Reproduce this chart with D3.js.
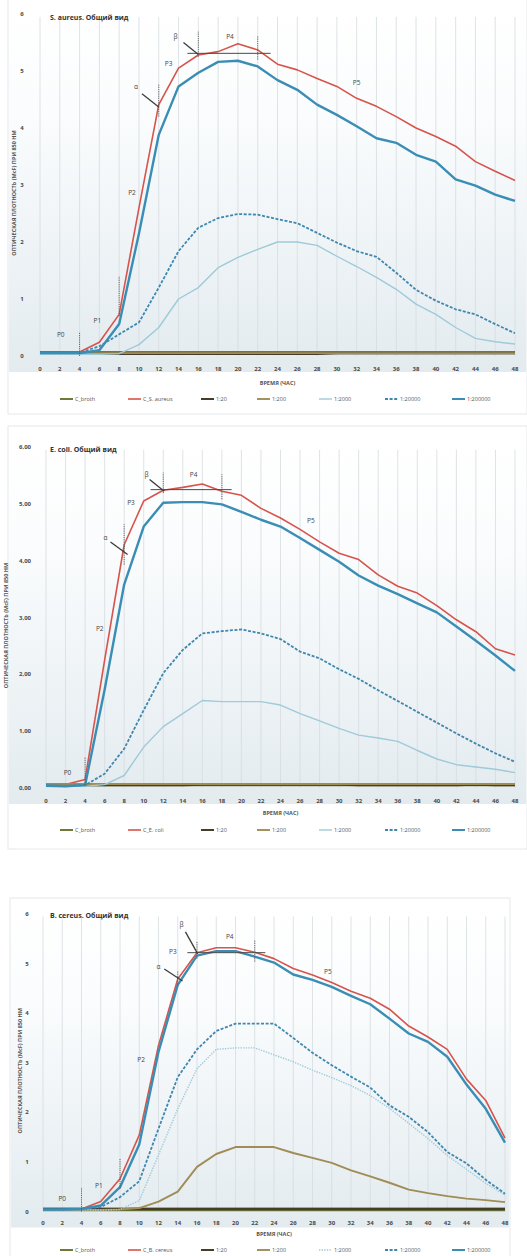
<!DOCTYPE html>
<html>
<head>
<meta charset="utf-8">
<script src="https://cdn.jsdelivr.net/npm/d3@7"></script>
<style>
  body { margin: 0; background: #ffffff; }
  svg { display: block; font-family: "Liberation Sans Narrow", "Open Sans", sans-serif; }
</style>
</head>
<body>
<svg id="chart" width="527" height="1256"></svg>
<script>
// Sampling times, hours
const hours = [0, 2, 4, 6, 8, 10, 12, 14, 16, 18, 20, 22, 24, 26, 28, 30, 32, 34, 36, 38, 40, 42, 44, 46, 48];
const yTicks = [0, 1, 2, 3, 4, 5, 6];
const yTickLabelsPlain = ["0", "1", "2", "3", "4", "5", "6"];
const yTickLabelsComma = ["0,00", "1,00", "2,00", "3,00", "4,00", "5,00", "6,00"];
const seriesNames = ["C_broth", null, "1:20", "1:200", "1:2000", "1:20000", "1:200000"];

// ---- S. aureus ----
const saBroth   = [0.06,0.06,0.06,0.06,0.06,0.06,0.06,0.06,0.06,0.06,0.06,0.06,0.06,0.06,0.06,0.06,0.06,0.06,0.06,0.06,0.06,0.06,0.06,0.06,0.06];
const saControl = [0.06,0.06,0.07,0.24,0.73,2.6,4.41,5.05,5.28,5.34,5.48,5.37,5.12,5.02,4.87,4.73,4.52,4.38,4.2,4.0,3.85,3.68,3.41,3.24,3.08];
const sa20      = [0.04,0.04,0.04,0.04,0.04,0.04,0.04,0.04,0.04,0.04,0.04,0.04,0.04,0.04,0.04,0.05,0.05,0.05,0.05,0.05,0.05,0.05,0.05,0.05,0.05];
const sa200     = [0.05,0.05,0.05,0.05,0.05,0.05,0.05,0.05,0.05,0.05,0.05,0.05,0.05,0.05,0.05,0.05,0.05,0.05,0.05,0.05,0.05,0.05,0.05,0.05,0.05];
const sa2000    = [0.03,0.03,0.03,0.03,0.04,0.2,0.5,1.0,1.2,1.55,1.73,1.87,2.0,2.0,1.94,1.75,1.57,1.38,1.17,0.91,0.73,0.5,0.31,0.25,0.21];
const sa20000   = [0.05,0.05,0.06,0.17,0.38,0.59,1.2,1.84,2.25,2.42,2.49,2.48,2.4,2.33,2.16,1.99,1.84,1.74,1.46,1.16,0.97,0.82,0.73,0.56,0.4];
const sa200000  = [0.05,0.05,0.05,0.1,0.56,2.15,3.88,4.73,4.97,5.16,5.18,5.08,4.84,4.67,4.41,4.23,4.03,3.82,3.74,3.53,3.41,3.1,2.99,2.83,2.72];

// ---- E. coli ----
const ecBroth   = [0.06,0.06,0.06,0.06,0.06,0.06,0.06,0.06,0.06,0.06,0.06,0.06,0.06,0.06,0.06,0.06,0.06,0.06,0.06,0.06,0.06,0.06,0.06,0.06,0.06];
const ecControl = [0.05,0.06,0.15,2.25,4.28,5.05,5.24,5.29,5.35,5.22,5.15,4.92,4.75,4.55,4.33,4.13,4.02,3.75,3.55,3.43,3.21,2.96,2.75,2.45,2.34];
const ec20      = [0.05,0.05,0.05,0.05,0.05,0.05,0.05,0.05,0.06,0.06,0.06,0.06,0.06,0.06,0.06,0.06,0.05,0.05,0.05,0.05,0.05,0.05,0.06,0.05,0.05];
const ec200     = [0.07,0.07,0.07,0.07,0.07,0.07,0.07,0.07,0.07,0.07,0.07,0.07,0.07,0.07,0.07,0.07,0.07,0.07,0.07,0.07,0.07,0.07,0.07,0.07,0.07];
const ec2000    = [0.03,0.03,0.03,0.06,0.22,0.72,1.08,1.31,1.54,1.52,1.52,1.52,1.46,1.31,1.18,1.05,0.93,0.88,0.82,0.66,0.51,0.41,0.37,0.33,0.27];
const ec20000   = [0.05,0.04,0.05,0.25,0.69,1.37,2.02,2.43,2.72,2.76,2.79,2.72,2.62,2.4,2.28,2.09,1.92,1.72,1.53,1.34,1.15,0.96,0.78,0.61,0.46];
const ec200000  = [0.04,0.03,0.05,1.73,3.58,4.6,5.02,5.03,5.03,4.99,4.86,4.72,4.6,4.4,4.19,3.98,3.74,3.56,3.41,3.25,3.09,2.84,2.59,2.33,2.06];

// ---- B. cereus ----
const bcBroth   = [0.04,0.04,0.04,0.04,0.04,0.04,0.04,0.04,0.04,0.04,0.04,0.04,0.04,0.04,0.04,0.04,0.04,0.04,0.04,0.04,0.04,0.04,0.04,0.04,0.04];
const bcControl = [0.04,0.04,0.05,0.2,0.66,1.54,3.35,4.69,5.22,5.32,5.32,5.23,5.1,4.9,4.77,4.62,4.44,4.3,4.08,3.74,3.52,3.27,2.67,2.24,1.48];
const bc20      = [0.05,0.05,0.05,0.05,0.05,0.05,0.05,0.05,0.05,0.05,0.05,0.05,0.05,0.05,0.05,0.05,0.05,0.05,0.05,0.05,0.05,0.05,0.05,0.05,0.05];
const bc200     = [0.03,0.03,0.03,0.03,0.04,0.07,0.2,0.4,0.9,1.16,1.3,1.3,1.3,1.18,1.08,0.98,0.83,0.71,0.58,0.44,0.37,0.31,0.26,0.23,0.19];
const bc2000    = [0.03,0.03,0.03,0.03,0.04,0.22,1.14,2.07,2.88,3.27,3.3,3.3,3.16,3.02,2.85,2.7,2.54,2.34,2.08,1.78,1.47,1.13,0.85,0.57,0.33];
const bc20000   = [0.04,0.04,0.05,0.09,0.29,0.61,1.67,2.71,3.27,3.64,3.79,3.79,3.79,3.5,3.2,2.95,2.72,2.5,2.14,1.91,1.6,1.2,0.97,0.64,0.36];
const bc200000  = [0.04,0.04,0.05,0.12,0.49,1.35,3.22,4.57,5.16,5.25,5.25,5.14,5.02,4.78,4.67,4.53,4.35,4.18,3.89,3.59,3.42,3.12,2.56,2.07,1.39];

// Growth-phase annotations (time in hours, optical density)
const saPhases  = [{text:"P0",t:2.1,v:0.38},{text:"P1",t:5.8,v:0.62},{text:"P2",t:9.3,v:2.86},{text:"P3",t:13.0,v:5.13},{text:"P4",t:19.2,v:5.61},{text:"P5",t:32.0,v:4.8}];
const saBounds  = [{t:4,v0:0,v1:0.41},{t:8,v0:0.7,v1:1.4},{t:12,v0:4.2,v1:4.76},{t:16,v0:5.25,v1:5.69},{t:22,v0:5.2,v1:5.62}];
const saPoints  = [{text:"α",lt:9.7,lv:4.73,t0:10.3,v0:4.6,t1:12,v1:4.37},{text:"β",lt:13.7,lv:5.61,t0:14.5,v0:5.5,t1:16,v1:5.29}];
const saPlateau = {t0:14.9,t1:23.3,v:5.31};

const ecPhases  = [{text:"P0",t:2.2,v:0.27},{text:"P2",t:5.5,v:2.81},{text:"P3",t:8.7,v:5.02},{text:"P4",t:15.1,v:5.51},{text:"P5",t:27.1,v:4.71}];
const ecBounds  = [{t:4,v0:0.05,v1:0.55},{t:8,v0:3.93,v1:4.64},{t:12,v0:5.19,v1:5.55},{t:18,v0:5.08,v1:5.52}];
const ecPoints  = [{text:"α",lt:6.1,lv:4.41,t0:6.6,v0:4.33,t1:8.35,v1:4.11},{text:"β",lt:10.3,lv:5.51,t0:10.6,v0:5.43,t1:12.1,v1:5.22}];
const ecPlateau = {t0:10.7,t1:19,v:5.25};

const bcPhases  = [{text:"P0",t:2.0,v:0.26},{text:"P1",t:5.8,v:0.53},{text:"P2",t:10.2,v:3.07},{text:"P3",t:13.5,v:5.25},{text:"P4",t:19.4,v:5.54},{text:"P5",t:29.6,v:4.85}];
const bcBounds  = [{t:4,v0:0,v1:0.49},{t:8,v0:0.46,v1:1.06},{t:14,v0:4.55,v1:4.85},{t:16,v0:5.1,v1:5.44},{t:22,v0:5.04,v1:5.47}];
const bcPoints  = [{text:"α",lt:12.0,lv:4.94,t0:12.6,v0:4.89,t1:14.5,v1:4.65},{text:"β",lt:14.4,lv:5.79,t0:14.8,v0:5.64,t1:16.06,v1:5.2}];
const bcPlateau = {t0:15,t1:23.1,v:5.22};

// Line styles per series slot
const styles = [
  { color: "#6f7a3a", width: 3.4, dash: null },      // C_broth
  { color: "#d6544b", width: 1.6, dash: null },      // control
  { color: "#463d28", width: 2.4, dash: null },      // 1:20
  { color: "#a08c55", width: 1.9, dash: null },      // 1:200
  { color: "#9fcad9", width: 1.4, dash: null },      // 1:2000
  { color: "#3f87ae", width: 1.8, dash: "3,1.6" },   // 1:20000
  { color: "#3a8db5", width: 2.4, dash: null }       // 1:200000
];

const panels = [
  { title: "S. aureus. Общий вид", control: "C_S. aureus",
    series: [saBroth, saControl, sa20, sa200, sa2000, sa20000, sa200000],
    phases: saPhases, bounds: saBounds, points: saPoints, plateau: saPlateau,
    tickLabels: yTickLabelsPlain, dotted2000: false,
    box: [8, -2, 519, 416], x: [40, 515], y: [356, 14],
    tickX: 22, tickAnchor: "middle", yTitleX: 14,
    titleX: 50, titleY: 17, xLabelY: 369, xTitleY: 383, legendY: 399 },
  { title: "E. coli. Общий вид", control: "C_E. coli",
    series: [ecBroth, ecControl, ec20, ec200, ec2000, ec20000, ec200000],
    phases: ecPhases, bounds: ecBounds, points: ecPoints, plateau: ecPlateau,
    tickLabels: yTickLabelsComma, dotted2000: false,
    box: [8, 426, 519, 423], x: [46, 515], y: [788, 447],
    tickX: 31, tickAnchor: "end", yTitleX: 6,
    titleX: 50, titleY: 449, xLabelY: 801, xTitleY: 813, legendY: 830 },
  { title: "B. cereus. Общий вид", control: "C_B. cereus",
    series: [bcBroth, bcControl, bc20, bc200, bc2000, bc20000, bc200000],
    phases: bcPhases, bounds: bcBounds, points: bcPoints, plateau: bcPlateau,
    tickLabels: yTickLabelsPlain, dotted2000: true,
    box: [10, 898, 500, 360], x: [43, 505], y: [1211.5, 914],
    tickX: 27, tickAnchor: "middle", yTitleX: 20,
    titleX: 50, titleY: 915, xLabelY: 1223, xTitleY: 1234, legendY: 1250 }
];

const legendOffsets = [60, 128, 201, 257, 319, 385, 452];

const svg = d3.select("#chart");
const defs = svg.append("defs");
const grad = defs.append("linearGradient").attr("id", "plotBg")
  .attr("x1", 0).attr("y1", 0).attr("x2", 0).attr("y2", 1);
grad.append("stop").attr("offset", "0%").attr("stop-color", "#ffffff");
grad.append("stop").attr("offset", "30%").attr("stop-color", "#fafcfd");
grad.append("stop").attr("offset", "100%").attr("stop-color", "#e3ebef");

panels.forEach(p => {
  const g = svg.append("g");
  const x = d3.scaleLinear().domain([0, 48]).range(p.x);
  const y = d3.scaleLinear().domain([0, 6]).range(p.y);

  // frame
  g.append("rect")
    .attr("x", p.box[0]).attr("y", p.box[1]).attr("width", p.box[2]).attr("height", p.box[3])
    .attr("fill", "#ffffff").attr("stroke", "#e4e8ea").attr("stroke-width", 1);
  // plot background
  g.append("rect")
    .attr("x", p.box[0] + 1).attr("y", y(6) - 4)
    .attr("width", p.box[2] - 2).attr("height", y(0) - y(6) + 20)
    .attr("fill", "url(#plotBg)");

  // vertical gridlines
  g.append("g").selectAll("line").data(hours).join("line")
    .attr("x1", d => x(d)).attr("x2", d => x(d))
    .attr("y1", y(0)).attr("y2", y(5.95))
    .attr("stroke", "#d6dce0").attr("stroke-width", 0.8);

  // y axis tick labels
  g.append("g").selectAll("text").data(yTicks).join("text")
    .attr("x", p.tickX).attr("y", d => y(d))
    .attr("text-anchor", p.tickAnchor).attr("dominant-baseline", "central")
    .attr("font-size", 6).attr("font-weight", "bold").attr("fill", "#4a4a4a")
    .text((d, i) => p.tickLabels[i]);

  // x axis tick labels
  g.append("g").selectAll("text").data(hours).join("text")
    .attr("x", d => x(d)).attr("y", p.xLabelY)
    .attr("text-anchor", "middle").attr("dominant-baseline", "central")
    .attr("font-size", 6).attr("font-weight", "bold").attr("fill", "#4a4a4a")
    .text(d => d);

  g.append("text")
    .attr("x", (p.x[0] + p.x[1]) / 2).attr("y", p.xTitleY)
    .attr("text-anchor", "middle").attr("dominant-baseline", "central")
    .attr("font-size", 5.5).attr("font-weight", "bold").attr("fill", "#555")
    .text("ВРЕМЯ (ЧАС)");

  g.append("text")
    .attr("transform", `translate(${p.yTitleX},${(y(0) + y(6)) / 2 + 8}) rotate(-90)`)
    .attr("text-anchor", "middle").attr("dominant-baseline", "central")
    .attr("font-size", 5.5).attr("font-weight", "bold").attr("fill", "#555")
    .text("ОПТИЧЕСКАЯ ПЛОТНОСТЬ (McF) ПРИ 850 НМ");

  // title
  g.append("text")
    .attr("x", p.titleX).attr("y", p.titleY)
    .attr("dominant-baseline", "central")
    .attr("font-size", 7).attr("font-weight", "bold").attr("fill", "#333")
    .text(p.title);

  // series lines
  const line = d3.line().x((d, i) => x(hours[i])).y(d => y(d));
  p.series.forEach((vals, si) => {
    const st = styles[si];
    const dash = (si === 4 && p.dotted2000) ? "1.4,1.2" : st.dash;
    g.append("path").datum(vals)
      .attr("d", line)
      .attr("fill", "none")
      .attr("stroke", st.color)
      .attr("stroke-width", st.width)
      .attr("stroke-linejoin", "round")
      .attr("stroke-dasharray", dash);
  });

  // phase boundaries
  g.append("g").selectAll("line").data(p.bounds).join("line")
    .attr("x1", d => x(d.t)).attr("x2", d => x(d.t))
    .attr("y1", d => y(d.v0)).attr("y2", d => y(d.v1))
    .attr("stroke", "#555").attr("stroke-width", 0.9)
    .attr("stroke-dasharray", "1.2,1");

  // plateau level
  g.append("line")
    .attr("x1", x(p.plateau.t0)).attr("x2", x(p.plateau.t1))
    .attr("y1", y(p.plateau.v)).attr("y2", y(p.plateau.v))
    .attr("stroke", "#4a4a4a").attr("stroke-width", 1);

  // alpha / beta pointers
  g.append("g").selectAll("line").data(p.points).join("line")
    .attr("x1", d => x(d.t0)).attr("y1", d => y(d.v0))
    .attr("x2", d => x(d.t1)).attr("y2", d => y(d.v1))
    .attr("stroke", "#3c3c3c").attr("stroke-width", 1.3);
  g.append("g").selectAll("text").data(p.points).join("text")
    .attr("x", d => x(d.lt)).attr("y", d => y(d.lv))
    .attr("text-anchor", "middle").attr("dominant-baseline", "central")
    .attr("font-size", 6.5).attr("fill", "#444")
    .text(d => d.text);

  // phase labels
  g.append("g").selectAll("text").data(p.phases).join("text")
    .attr("x", d => x(d.t)).attr("y", d => y(d.v))
    .attr("text-anchor", "middle").attr("dominant-baseline", "central")
    .attr("font-size", 6.5).attr("fill", "#444")
    .text(d => d.text);

  // legend
  const names = seriesNames.map((n, i) => i === 1 ? p.control : n);
  const lg = g.append("g").selectAll("g").data(names).join("g")
    .attr("transform", (d, i) => `translate(${legendOffsets[i]},${p.legendY})`);
  lg.append("line")
    .attr("x1", 0).attr("x2", 13).attr("y1", 0).attr("y2", 0)
    .attr("stroke", (d, i) => styles[i].color)
    .attr("stroke-width", (d, i) => Math.min(styles[i].width, 2))
    .attr("stroke-dasharray", (d, i) => (i === 4 && p.dotted2000) ? "1.4,1.2" : styles[i].dash);
  lg.append("text")
    .attr("x", 15).attr("y", 0).attr("dominant-baseline", "central")
    .attr("font-size", 5.5).attr("fill", "#555")
    .text(d => d);
});
</script>
</body>
</html>
